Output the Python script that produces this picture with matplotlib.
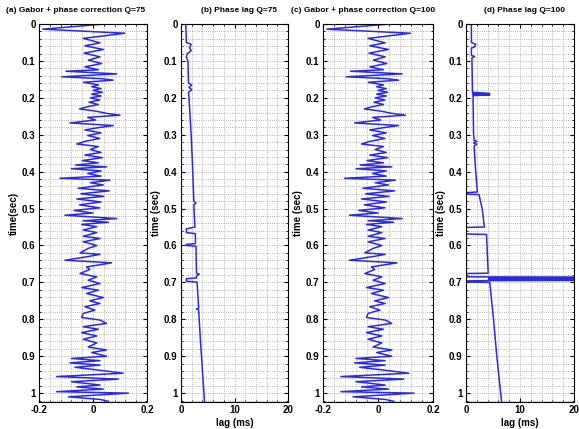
import numpy as np
import matplotlib
matplotlib.use('Agg')
import matplotlib.pyplot as plt
from matplotlib.ticker import MultipleLocator

# Gabor + phase correction trace (time s, amplitude)
t_a = [0.000, 0.014, 0.025, 0.039, 0.051, 0.059, 0.069, 0.079, 0.089, 0.098,
       0.107, 0.116, 0.124, 0.128, 0.135, 0.143, 0.148, 0.152, 0.158, 0.165,
       0.170, 0.175, 0.180, 0.185, 0.190, 0.195, 0.200, 0.206, 0.212, 0.218,
       0.224, 0.230, 0.236, 0.242, 0.247, 0.253, 0.260, 0.268, 0.275, 0.282,
       0.287, 0.295, 0.302, 0.310, 0.318, 0.325, 0.332, 0.340, 0.348, 0.355,
       0.362, 0.370, 0.376, 0.382, 0.387, 0.392, 0.398, 0.405, 0.412, 0.418,
       0.423, 0.430, 0.436, 0.445, 0.452, 0.460, 0.467, 0.474, 0.482, 0.490,
       0.498, 0.505, 0.512, 0.518, 0.527, 0.533, 0.537, 0.543, 0.549, 0.558,
       0.565, 0.575, 0.581, 0.590, 0.600, 0.608, 0.620, 0.624, 0.630, 0.640,
       0.647, 0.658, 0.665, 0.676, 0.685, 0.694, 0.703, 0.714, 0.721, 0.730,
       0.741, 0.750, 0.757, 0.766, 0.775, 0.784, 0.795, 0.802, 0.811, 0.820,
       0.827, 0.836, 0.845, 0.854, 0.864, 0.875, 0.883, 0.890, 0.900, 0.906,
       0.912, 0.918, 0.924, 0.930, 0.937, 0.946, 0.955, 0.962, 0.969, 0.978,
       0.983, 0.989, 0.996, 1.000, 1.010, 1.017, 1.022]
amp_a = [0.044, -0.186, 0.118, -0.036, 0.026, -0.030, 0.038, -0.033, 0.026, -0.017,
         0.032, -0.030, 0.020, -0.100, 0.088, -0.115, 0.030, 0.075, -0.035, 0.020,
         -0.005, 0.030, 0.000, 0.035, -0.005, 0.030, -0.010, 0.025, -0.015, 0.020,
         -0.020, -0.050, 0.010, 0.050, 0.100, -0.020, 0.010, -0.085, 0.075, 0.010,
         -0.030, 0.030, -0.020, 0.025, -0.030, -0.060, 0.020, -0.010, 0.030, -0.030,
         0.035, -0.040, 0.020, -0.065, 0.050, -0.080, 0.030, -0.020, 0.030, -0.122,
         0.063, -0.010, 0.038, -0.055, 0.060, -0.045, 0.040, -0.060, 0.030, -0.050,
         0.025, -0.070, 0.000, -0.104, 0.088, -0.036, 0.057, -0.042, 0.014, -0.036,
         0.014, -0.036, 0.026, -0.036, 0.014, -0.018, -0.048, 0.026, -0.018, -0.104,
         0.069, -0.024, -0.012, -0.048, 0.014, -0.018, 0.026, -0.042, 0.020, -0.024,
         0.038, -0.012, 0.026, -0.030, 0.007, -0.036, -0.042, 0.026, 0.050, -0.036,
         0.020, -0.042, 0.014, -0.036, 0.014, -0.018, 0.050, -0.005, 0.050, -0.080,
         0.026, -0.085, 0.026, -0.067, 0.014, 0.112, -0.135, 0.094, -0.080, 0.026,
         -0.060, 0.038, -0.135, 0.131, -0.091, 0.026, 0.057]

# panel (c) trace matches panel (a) to within reading accuracy
t_c = t_a
amp_c = amp_a

# Phase lag Q=75 (time s, lag ms)
t_b = [0.000, 0.050, 0.055, 0.065, 0.072, 0.080, 0.090, 0.100, 0.160, 0.165,
       0.172, 0.178, 0.185, 0.200, 0.300, 0.400, 0.480, 0.485, 0.490, 0.550,
       0.555, 0.565, 0.568, 0.595, 0.597, 0.600, 0.602, 0.675, 0.678, 0.682,
       0.688, 0.690, 0.697, 0.699, 0.770, 0.772, 0.775, 0.850, 1.024]
lag_b = [0.9, 1.0, 1.9, 1.6, 1.9, 1.2, 1.0, 1.3, 1.4, 2.0,
         1.5, 2.0, 1.4, 1.5, 1.9, 2.2, 2.4, 2.8, 2.4, 2.6,
         1.0, 1.0, 2.7, 2.7, 1.0, 1.0, 2.8, 2.9, 3.4, 2.9,
         2.9, 1.0, 1.0, 3.0, 3.3, 2.9, 3.3, 3.6, 4.4]

# Phase lag Q=100 (time s, lag ms)
t_d = [0.000, 0.050, 0.055, 0.062, 0.065, 0.085, 0.088, 0.092, 0.185, 0.188,
       0.190, 0.192, 0.194, 0.300, 0.315, 0.318, 0.322, 0.326, 0.330, 0.400,
       0.455, 0.457, 0.461, 0.462, 0.500, 0.550, 0.551, 0.569, 0.570, 0.672,
       0.675, 0.676, 0.685, 0.686, 0.688, 0.689, 0.690, 0.692, 0.693, 0.694,
       0.695, 0.696, 0.699, 0.700, 0.800, 0.900, 1.024]
lag_d = [1.0, 1.0, 1.8, 1.6, 1.0, 1.0, 1.6, 1.1, 1.2, 4.4,
         1.2, 4.4, 1.3, 1.4, 1.5, 2.0, 1.4, 2.0, 1.5, 1.8,
         2.1, 0.0, 0.0, 2.4, 3.0, 3.4, 0.0, 0.0, 3.8, 4.1,
         4.1, 0.0, 0.0, 40.0, 40.0, 4.2, 40.0, 40.0, 4.2, 40.0,
         4.3, 0.0, 0.0, 4.4, 5.1, 5.7, 6.6]

titles = ['(a) Gabor + phase correction Q=75', '(b) Phase lag Q=75',
          '(c) Gabor + phase correction Q=100', '(d) Phase lag Q=100']
title_x = [76, 239, 363, 525]
ylabels = ['time(sec)', 'time (sec)', 'time (sec)', 'time (sec)']

plt.rcParams['font.family'] = ['Liberation Sans', 'DejaVu Sans']
plt.rcParams['font.weight'] = 'bold'

fig = plt.figure(figsize=(5.79, 4.29), dpi=100)
W, H = 579., 429.
boxes = [(39, 147), (181, 288), (323, 433), (466, 574)]
top, bot = 24, 402
data = [(amp_a, t_a), (lag_b, t_b), (amp_c, t_c), (lag_d, t_d)]
col = '#2a2ae6'

for i, ((l, r), (xv, tv)) in enumerate(zip(boxes, data)):
    ax = fig.add_axes([l / W, 1 - bot / H, (r - l) / W, (bot - top) / H])
    ax.plot(xv, tv, color=col, lw=1.1)
    ax.set_ylim(1.024, 0)
    ax.yaxis.set_minor_locator(MultipleLocator(0.02))
    ax.set_yticks(np.arange(0, 1.01, 0.1))
    ax.set_yticklabels(['0'] + ['%.1f' % v for v in np.arange(0.1, 0.95, 0.1)] + ['1'])
    if i % 2 == 0:
        ax.set_xlim(-0.2, 0.2)
        ax.set_xticks([-0.2, 0, 0.2])
        ax.set_xticklabels(['-0.2', '0', '0.2'])
        ax.xaxis.set_minor_locator(MultipleLocator(0.04))
    else:
        ax.set_xlim(0, 20)
        ax.set_xticks([0, 10, 20])
        ax.xaxis.set_minor_locator(MultipleLocator(2))
        ax.set_xlabel('lag (ms)', fontsize=7, fontweight='bold', labelpad=2)
    ax.grid(which='both', color='#999999', ls=':', lw=0.6)
    ax.tick_params(which='both', direction='in', labelsize=7, pad=2.5,
                   top=True, right=True)
    ax.tick_params(which='major', length=3)
    ax.tick_params(which='minor', length=1.5)
    ax.set_ylabel(ylabels[i], fontsize=7, fontweight='bold', labelpad=2)
    fig.text(title_x[i] / W, 1 - 11 / H, titles[i], fontsize=6.0,
             fontweight='bold', ha='center', va='center')

fig.savefig('out.png', dpi=100)
